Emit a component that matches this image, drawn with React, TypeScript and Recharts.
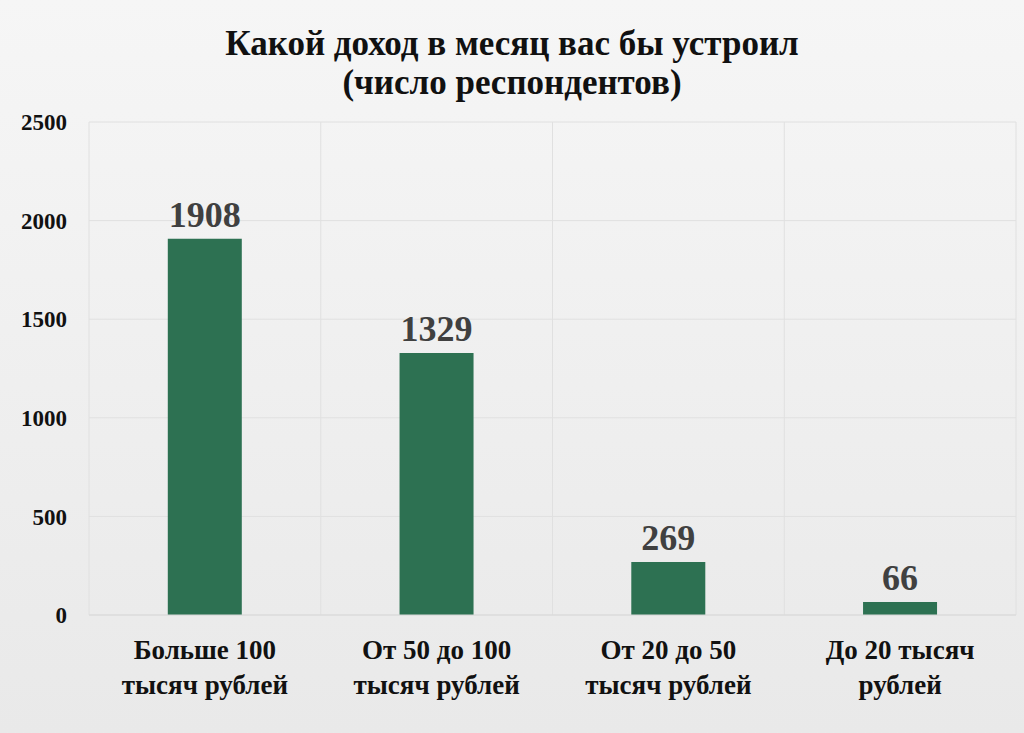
import { BarChart, Bar, XAxis, YAxis, CartesianGrid, LabelList } from "recharts";

const categories = ["Больше 100", "От 50 до 100", "От 20 до 50", "До 20 тысяч"];
const categorySecondLines = ["тысяч рублей", "тысяч рублей", "тысяч рублей", "рублей"];
const respondents = [1908, 1329, 269, 66];
const yTicks = [0, 500, 1000, 1500, 2000, 2500];
const titleLines = ["Какой доход в месяц вас бы устроил", "(число респондентов)"];

const data = categories.map((c, i) => ({
  name: c,
  value: respondents[i],
}));

const FONT = "'Liberation Serif', 'DejaVu Serif', serif";

const CategoryTick = ({ x, y, payload, index }: any) => {
  return (
    <g transform={`translate(${x},${y})`}>
      <text
        textAnchor="middle"
        fontFamily={FONT}
        fontWeight="bold"
        fontSize={27}
        fill="#111"
      >
        <tspan x={0} dy={36}>{payload.value}</tspan>
        <tspan x={0} dy={35}>{categorySecondLines[index]}</tspan>
      </text>
    </g>
  );
};

const App = () => {
  return (
    <div
      style={{
        position: "fixed",
        left: 0,
        top: 0,
        width: 1024,
        height: 733,
        background: "linear-gradient(180deg, #f6f6f6 0%, #eeeeee 60%, #e9e9e9 100%)",
        fontFamily: FONT,
      }}
    >
      <div
        style={{
          position: "absolute",
          top: 24,
          left: 0,
          width: 1024,
          textAlign: "center",
          fontWeight: "bold",
          fontSize: 35,
          lineHeight: "39px",
          color: "#111",
        }}
      >
        {titleLines.map((t) => (
          <div key={t}>{t}</div>
        ))}
      </div>
      <div style={{ position: "absolute", left: 0, top: 0 }}>
        <BarChart
          width={1024}
          height={733}
          data={data}
          margin={{ top: 122, right: 8, bottom: 18, left: 0 }}
          barCategoryGap="34%"
        >
          <CartesianGrid
            stroke="#e0e0e0"
            verticalCoordinatesGenerator={({ offset }: any) =>
              [...categories, ""].map(
                (_, i) => offset.left + (i * offset.width) / categories.length
              )
            }
          />
          <XAxis
            dataKey="name"
            axisLine={{ stroke: "#d9d9d9" }}
            tickLine={false}
            interval={0}
            height={100}
            tick={<CategoryTick />}
          />
          <YAxis
            domain={[0, 2500]}
            ticks={yTicks}
            width={89}
            axisLine={false}
            tickLine={false}
            tickMargin={16}
            tick={{ fontFamily: FONT, fontWeight: "bold", fontSize: 23, fill: "#111" }}
          />
          <Bar dataKey="value" fill="#2d7152" isAnimationActive={false}>
            <LabelList
              dataKey="value"
              position="top"
              offset={12}
              fill="#404040"
              fontFamily={FONT}
              fontWeight="bold"
              fontSize={36}
            />
          </Bar>
        </BarChart>
      </div>
    </div>
  );
};

export default App;
